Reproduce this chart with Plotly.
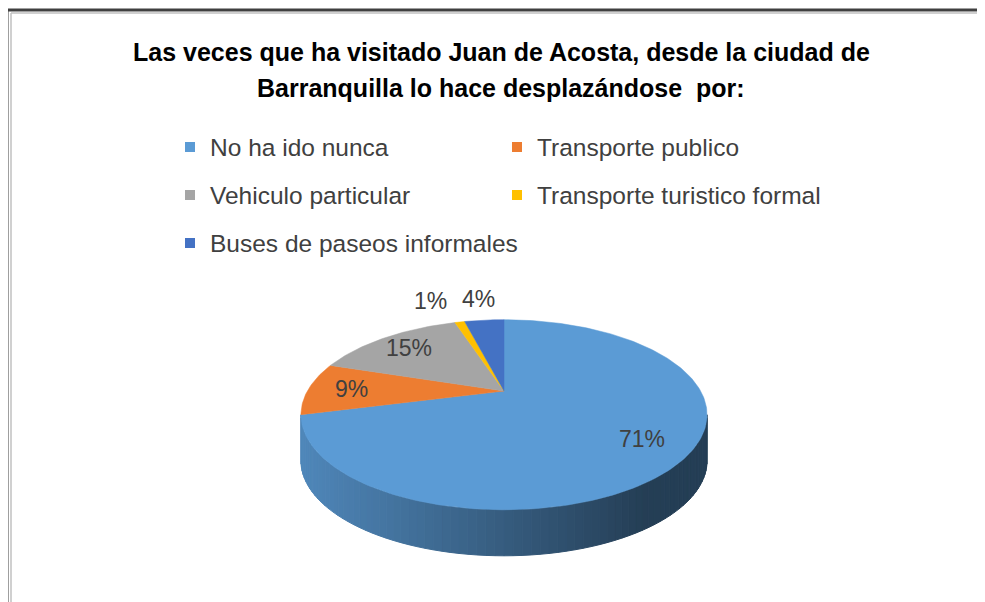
import math

import plotly.graph_objects as go

# datos del grafico
TITLE_LINES = [
    "Las veces que ha visitado Juan de Acosta, desde la ciudad de",
    "Barranquilla lo hace desplazándose  por:",
]
CATEGORIES = [
    "No ha ido nunca",
    "Transporte publico",
    "Vehiculo particular",
    "Transporte turistico formal",
    "Buses de paseos informales",
]
PERCENTS = [71, 9, 15, 1, 4]
COLORS = ["#5B9BD5", "#ED7D31", "#A5A5A5", "#FFC000", "#4472C4"]

# la pagina deja 8 px de margen en el body: la figura ocupa 8..985 / 8..602
OFF = 8
W, H = 985 - OFF, 602 - OFF
FONT = "Liberation Sans"
TEXT_COLOR = "#404040"

# geometria del pastel 3D (pixeles de la ventana)
K = 0.25          # perspectiva
RY = 89.1
CX, CY = 504, 391
RX = 196.6
DEPTH = 46        # grosor del disco


def project(r, theta_deg):
    t = math.radians(theta_deg)
    u = r * math.sin(t)
    v = r * math.cos(t)
    f = 1 / (1 + K * v)
    return CX + RX * u * f, CY - RY * v * f


def arc(a0, a1, r=1.0, step=1.0):
    n = max(2, int(math.ceil((a1 - a0) / step)) + 1)
    return [project(r, a0 + (a1 - a0) * i / (n - 1)) for i in range(n)]


def shade(hex_color, factor):
    h = hex_color.lstrip("#")
    rgb = [int(h[i:i + 2], 16) for i in (0, 2, 4)]
    return "rgb({},{},{})".format(*[int(round(c * factor)) for c in rgb])


total = sum(PERCENTS)
bounds = []
acc = 0
for p in PERCENTS:
    a0 = acc / total * 360
    acc += p
    bounds.append((a0, acc / total * 360))

fig = go.Figure()

# caras laterales (solo la parte frontal es visible)
sil = math.degrees(math.acos(-K))
x_left = project(1, 360 - sil)[0]
x_right = project(1, sil)[0]
for color, (a0, a1) in zip(COLORS, bounds):
    lo, hi = max(a0, sil), min(a1, 360 - sil)
    if hi - lo < 0.5:
        continue
    n = max(1, int(math.ceil((hi - lo) / 2.0)))
    for i in range(n):
        t0 = lo + (hi - lo) * i / n
        t1 = lo + (hi - lo) * (i + 1) / n
        top = arc(t0, t1, step=0.5)
        bot = [(x, y + DEPTH) for x, y in reversed(top)]
        pts = top + bot + [top[0]]
        xm = sum(x for x, _ in top) / len(top)
        t = (xm - x_left) / (x_right - x_left)
        fc = shade(color, 0.87 - 0.47 * min(max(t / 0.85, 0), 1))
        fig.add_trace(go.Scatter(
            x=[q[0] for q in pts], y=[q[1] for q in pts],
            mode="lines", fill="toself", fillcolor=fc,
            line=dict(color=fc, width=1),
            hoverinfo="skip", showlegend=False,
        ))

# caras superiores
for cat, p, color, (a0, a1) in zip(CATEGORIES, PERCENTS, COLORS, bounds):
    pts = [(CX, CY)] + arc(a0, a1) + [(CX, CY)]
    fig.add_trace(go.Scatter(
        x=[q[0] for q in pts], y=[q[1] for q in pts],
        mode="lines", fill="toself", fillcolor=color,
        line=dict(color=color, width=0.5),
        name=cat, hovertemplate=f"{cat}: {p}%<extra></extra>",
        showlegend=False,
    ))

# etiquetas de datos
labels = []
for p, (a0, a1) in zip(PERCENTS, bounds):
    mid = (a0 + a1) / 2
    r = 0.78 if p >= 5 else 1.4
    x, y = project(r, mid)
    labels.append([x, y, p, r > 1])
for i in range(len(labels) - 2, -1, -1):
    a, b = labels[i], labels[i + 1]
    if a[3] and b[3] and b[0] - a[0] < 48:
        a[0] = b[0] - 48
for x, y, p, _ in labels:
    fig.add_annotation(
        x=x, y=y, text=f"{p}%", showarrow=False,
        font=dict(family=FONT, size=23, color=TEXT_COLOR),
    )

# leyenda: una por elemento, en dos columnas
legend_cols = [170, 497]
legend_rows = [147, 195, 243]
legend_layout = {}
for i, (cat, color) in enumerate(zip(CATEGORIES, COLORS)):
    key = "legend" if i == 0 else f"legend{i + 1}"
    fig.add_trace(go.Scatter(
        x=[None], y=[None], mode="markers", name=cat,
        marker=dict(symbol="square", size=10, color=color),
        legend=key, showlegend=True,
    ))
    legend_layout[key] = dict(
        x=(legend_cols[i % 2] - OFF) / W, y=1 - (legend_rows[i // 2] - OFF) / H,
        xanchor="left", yanchor="middle",
        bgcolor="rgba(0,0,0,0)", borderwidth=0,
        font=dict(family=FONT, size=24.5, color=TEXT_COLOR),
    )

# titulo
for j, line in enumerate(TITLE_LINES):
    fig.add_annotation(
        x=501, y=52 + 36 * j, text=f"<b>{line}</b>", showarrow=False,
        font=dict(family=FONT, size=25, color="#000000"),
    )

# marco del grafico
frame = [
    dict(x0=7, y0=10, x1=7, y1=602, color="#404040", width=3),
    dict(x0=11, y0=13, x1=11, y1=602, color="#c0c0c0", width=1.5),
    dict(x0=7, y0=10, x1=985, y1=10, color="#404040", width=3),
    dict(x0=11, y0=13, x1=985, y1=13, color="#c0c0c0", width=1.5),
]
for s in frame:
    fig.add_shape(type="line", xref="x", yref="y",
                  x0=s["x0"], y0=s["y0"], x1=s["x1"], y1=s["y1"],
                  line=dict(color=s["color"], width=s["width"]))

fig.update_xaxes(visible=False, range=[OFF, 985], fixedrange=True)
fig.update_yaxes(visible=False, range=[602, OFF], fixedrange=True)
fig.update_layout(
    width=W, height=H,
    margin=dict(l=0, r=0, t=0, b=0),
    plot_bgcolor="white", paper_bgcolor="white",
    font=dict(family=FONT, color=TEXT_COLOR),
    **legend_layout,
)

fig.write_html("out.html")
